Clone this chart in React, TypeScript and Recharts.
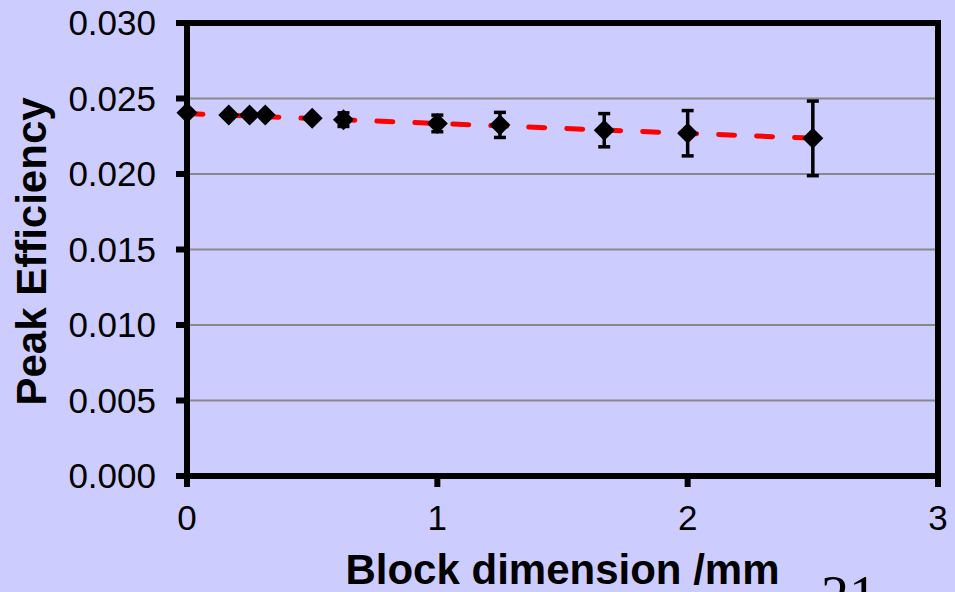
import {
  ComposedChart, Scatter, Line, XAxis, YAxis, CartesianGrid,
  ErrorBar, ReferenceArea,
} from 'recharts';

// block dimension (mm)
const blockSizes = [0, 0.1667, 0.25, 0.3125, 0.5, 0.625, 1, 1.25, 1.6667, 2, 2.5];
// peak efficiency per block size
const peakEff = [0.02406, 0.0239, 0.0239, 0.0239, 0.0237, 0.0236, 0.02335, 0.02325, 0.0229, 0.0227, 0.02236];
const effErr = [0, 0, 0, 0, 0, 0.00045, 0.00055, 0.00083, 0.0011, 0.0015, 0.00247];

// dashed linear trend endpoints
const trendX = [0, 2.5];
const trendY = [0.0240, 0.02237];

const xTicks = [0, 1, 2, 3];
const yTicks = [0, 0.005, 0.01, 0.015, 0.02, 0.025, 0.03];

const points = blockSizes.map((x, i) => ({ x, y: peakEff[i], err: effErr[i] }));
const trend = trendX.map((x, i) => ({ x, y: trendY[i] }));

const FONT = '"Liberation Sans", Arial, sans-serif';

const Diamond = (props: any) => {
  const { cx, cy } = props;
  const r = 10.5;
  return (
    <polygon
      points={`${cx},${cy - r} ${cx + r},${cy} ${cx},${cy + r} ${cx - r},${cy}`}
      fill="#000"
    />
  );
};

const YTitle = (props: any) => {
  const vb = props.viewBox || { x: 0, y: 23, width: 187, height: 453 };
  const cx = 31;
  const cy = vb.y + vb.height / 2 + 2;
  return (
    <text
      x={cx} y={cy} transform={`rotate(-90 ${cx} ${cy})`}
      textAnchor="middle" dominantBaseline="central"
      fontFamily={FONT} fontWeight="bold" fontSize={42} fill="#000"
    >
      Peak Efficiency
    </text>
  );
};

export default function App() {
  return (
    <div style={{ position: 'absolute', left: 0, top: 0, width: 955, height: 592, background: '#CCCCFF', overflow: 'hidden' }}>
      <ComposedChart width={955} height={592} margin={{ top: 23, right: 17, bottom: 0, left: 0 }}>
        <CartesianGrid vertical={false} stroke="#888888" strokeWidth={2} />
        <XAxis
          dataKey="x" type="number" domain={[0, 3]} ticks={xTicks}
          height={116} tickSize={11} tickMargin={18}
          axisLine={{ stroke: '#000', strokeWidth: 6 }}
          tickLine={{ stroke: '#000', strokeWidth: 6 }}
          tick={{ fill: '#000', fontSize: 35, fontFamily: FONT }}
          label={{
            value: 'Block dimension /mm', position: 'insideBottom', offset: 8,
            style: { fill: '#000', fontSize: 42, fontWeight: 'bold', fontFamily: FONT },
          }}
        />
        <YAxis
          dataKey="y" type="number" domain={[0, 0.03]} ticks={yTicks}
          width={187} tickSize={11} tickMargin={20}
          axisLine={{ stroke: '#000', strokeWidth: 6 }}
          tickLine={{ stroke: '#000', strokeWidth: 6 }}
          tick={{ fill: '#000', fontSize: 35, fontFamily: FONT }}
          tickFormatter={(v: number) => v.toFixed(3)}
          label={{ content: YTitle }}
        />
        <ReferenceArea
          x1={0} x2={3} y1={0} y2={0.03}
          fill="none" fillOpacity={0} stroke="#000" strokeWidth={6}
        />
        <Line
          data={trend} dataKey="y" type="linear" stroke="#FF0000"
          strokeWidth={5} strokeDasharray="16 22" strokeLinecap="round"
          dot={false} activeDot={false} isAnimationActive={false}
        />
        <Scatter data={points} dataKey="y" shape={Diamond} isAnimationActive={false}>
          <ErrorBar dataKey="err" direction="y" width={6} stroke="#000" strokeWidth={3.5} />
        </Scatter>
      </ComposedChart>
      <div
        style={{
          position: 'absolute', left: 821, top: 568, fontFamily: '"Liberation Serif", "Times New Roman", serif',
          fontSize: 56, lineHeight: '56px', color: '#000',
        }}
      >
        21
      </div>
    </div>
  );
}
